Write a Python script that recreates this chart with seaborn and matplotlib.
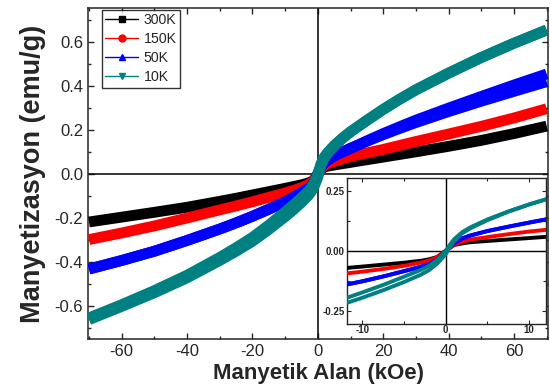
import numpy as np
import pandas as pd
import matplotlib
matplotlib.use("Agg")
import matplotlib.pyplot as plt
from matplotlib.lines import Line2D
from matplotlib.ticker import MultipleLocator, FormatStrFormatter
import seaborn as sns

sns.set_style("ticks")
plt.rcParams["font.family"] = ["Liberation Sans", "DejaVu Sans"]
plt.rcParams["axes.unicode_minus"] = False

# ---- data ----
field = [-70, -60, -50, -40, -30, -25, -20, -15, -12, -10, -7.5, -5, -3, -2, -1, -0.5, 0,
         0.5, 1, 2, 3, 5, 7.5, 10, 12, 15, 20, 25, 30, 40, 50, 60, 70]

m_300K = [-0.218, -0.196, -0.174, -0.151, -0.124, -0.11, -0.095, -0.08, -0.071, -0.065, -0.057, -0.049, -0.041, -0.035, -0.025, -0.012, 0.0,
          0.012, 0.024, 0.031, 0.036, 0.041, 0.047, 0.053, 0.058, 0.065, 0.077, 0.089, 0.101, 0.126, 0.153, 0.184, 0.218]
m_150K = [-0.298, -0.268, -0.236, -0.2, -0.163, -0.145, -0.126, -0.106, -0.094, -0.086, -0.075, -0.062, -0.049, -0.04, -0.026, -0.013, 0.0,
          0.012, 0.025, 0.039, 0.047, 0.057, 0.069, 0.08, 0.087, 0.096, 0.112, 0.13, 0.148, 0.182, 0.217, 0.255, 0.297]
m_50K_a = [-0.432, -0.393, -0.351, -0.302, -0.25, -0.222, -0.192, -0.16, -0.14, -0.126, -0.106, -0.084, -0.066, -0.055, -0.036, -0.017, 0.0,
           0.017, 0.032, 0.052, 0.064, 0.082, 0.1, 0.117, 0.13, 0.149, 0.179, 0.207, 0.234, 0.284, 0.331, 0.376, 0.42]
m_50K_b = [-0.432, -0.393, -0.351, -0.302, -0.25, -0.222, -0.192, -0.16, -0.14, -0.126, -0.106, -0.084, -0.066, -0.055, -0.036, -0.017, 0.0,
           0.017, 0.032, 0.052, 0.064, 0.082, 0.1, 0.117, 0.13, 0.151, 0.184, 0.215, 0.245, 0.30, 0.353, 0.405, 0.455]
m_10K_a = [-0.654, -0.594, -0.53, -0.46, -0.379, -0.335, -0.288, -0.232, -0.196, -0.172, -0.141, -0.107, -0.079, -0.062, -0.036, -0.018, 0.0,
           0.025, 0.048, 0.078, 0.098, 0.13, 0.163, 0.192, 0.213, 0.244, 0.294, 0.34, 0.383, 0.459, 0.53, 0.595, 0.655]
m_10K_b = [-0.662, -0.602, -0.54, -0.472, -0.393, -0.351, -0.306, -0.252, -0.217, -0.194, -0.163, -0.129, -0.099, -0.08, -0.052, -0.033, -0.014,
           0.015, 0.04, 0.073, 0.094, 0.127, 0.162, 0.192, 0.213, 0.244, 0.294, 0.34, 0.383, 0.459, 0.53, 0.595, 0.655]

labels = ["300K", "150K", "50K", "10K"]
colors = ["#000000", "#ff0000", "#0000ff", "#008080"]
markers = ["s", "o", "^", "v"]

series = {
    "300K": [m_300K],
    "150K": [m_150K],
    "50K": [m_50K_a, m_50K_b],
    "10K": [m_10K_a, m_10K_b],
}
rows = []
for t, branches in series.items():
    for b, vals in enumerate(branches):
        for h, m in zip(field, vals):
            rows.append({"H": h, "M": m, "T": t, "branch": b})
df = pd.DataFrame(rows)
palette = dict(zip(labels, colors))

fig = plt.figure(figsize=(5.5, 3.9), dpi=100)
ax = fig.add_axes([0.16, 0.1308, 0.8364, 0.8487])

ax.axhline(0, color="black", lw=1.1, zorder=1)
ax.axvline(0, color="black", lw=1.1, zorder=1)

sns.lineplot(data=df, x="H", y="M", hue="T", units="branch", estimator=None,
             sort=False, palette=palette, hue_order=labels, lw=7.8,
             legend=False, ax=ax, zorder=3, solid_capstyle="butt",
             solid_joinstyle="round")

ax.set_xlim(-70.3, 70.4)
ax.set_ylim(-0.75, 0.755)
ax.xaxis.set_major_locator(MultipleLocator(20))
ax.xaxis.set_minor_locator(MultipleLocator(10))
ax.yaxis.set_major_locator(MultipleLocator(0.2))
ax.yaxis.set_minor_locator(MultipleLocator(0.1))
ax.yaxis.set_major_formatter(FormatStrFormatter("%.1f"))
ax.tick_params(which="both", direction="in", top=True, right=True,
               labelsize=12, width=1.0, pad=3.5)
ax.tick_params(which="major", length=4)
ax.tick_params(which="minor", length=2.5)
for s in ax.spines.values():
    s.set_linewidth(1.1)
ax.set_xlabel("Manyetik Alan (kOe)", fontsize=16, fontweight="bold", labelpad=3)
ax.set_ylabel("Manyetizasyon (emu/g)", fontsize=19.5, fontweight="bold", labelpad=6)

handles = [Line2D([0], [0], color=c, marker=mk, lw=1, markersize=5) for c, mk in zip(colors, markers)]
leg = ax.legend(handles, labels, loc="upper left", bbox_to_anchor=(0.03, 0.995),
                fontsize=10.2, frameon=True, fancybox=False, handlelength=2.3,
                handletextpad=0.4, labelspacing=0.35, borderpad=0.25, borderaxespad=0.0)
leg.get_frame().set_edgecolor("black")
leg.get_frame().set_linewidth(1.0)

# ---- inset ----
ins = fig.add_axes([0.6318, 0.168, 0.3609, 0.3744])
ins.set_facecolor("white")
ins.axhline(0, color="black", lw=1.0, zorder=1)
ins.axvline(0, color="black", lw=1.0, zorder=1)
sns.lineplot(data=df, x="H", y="M", hue="T", units="branch", estimator=None,
             sort=False, palette=palette, hue_order=labels, lw=2.8,
             legend=False, ax=ins, zorder=3, solid_joinstyle="round")
ins.set_xlim(-11.8, 12.05)
ins.set_ylim(-0.305, 0.30)
ins.xaxis.set_major_locator(MultipleLocator(10))
ins.xaxis.set_minor_locator(MultipleLocator(5))
ins.yaxis.set_major_locator(MultipleLocator(0.25))
ins.yaxis.set_minor_locator(MultipleLocator(0.125))
ins.yaxis.set_major_formatter(FormatStrFormatter("%.2f"))
ins.tick_params(which="both", direction="in", top=True, right=True, width=0.8)
ins.tick_params(which="major", length=3)
ins.tick_params(which="minor", length=2)
ins.tick_params(axis="x", labelsize=7, pad=0.5)
ins.tick_params(axis="y", labelsize=7, pad=2)
for lab in ins.get_xticklabels() + ins.get_yticklabels():
    lab.set_fontweight("bold")
ins.set_xlabel("")
ins.set_ylabel("")
for s in ins.spines.values():
    s.set_linewidth(1.0)

fig.savefig("out.png", dpi=100)
